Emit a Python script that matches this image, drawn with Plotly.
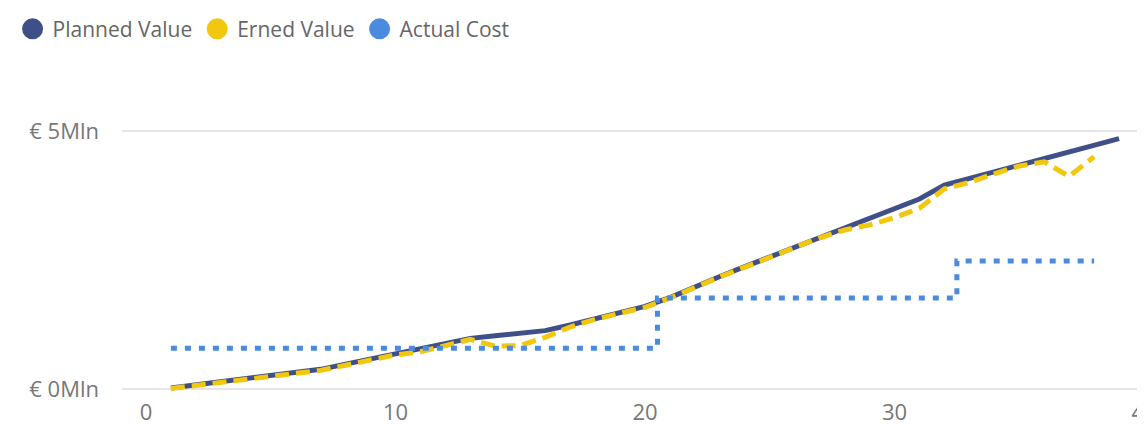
import plotly.graph_objects as go

weeks = list(range(1, 40))
planned_value = [0.02, 0.08, 0.14, 0.19, 0.24, 0.30, 0.38, 0.48, 0.58, 0.68,
                 0.80, 0.90, 0.98, 1.03, 1.08, 1.13, 1.24, 1.36, 1.48, 1.60,
                 1.77, 1.98, 2.18, 2.37, 2.56, 2.75, 2.94, 3.13, 3.32, 3.50,
                 3.68, 3.95, 4.08, 4.22, 4.35, 4.47, 4.59, 4.72, 4.85]
earned_weeks = list(range(1, 39))
earned_value = [0.01, 0.07, 0.13, 0.18, 0.23, 0.29, 0.36, 0.46, 0.56, 0.66,
                0.72, 0.84, 0.96, 0.83, 0.84, 1.00, 1.20, 1.35, 1.47, 1.58,
                1.76, 1.97, 2.17, 2.36, 2.55, 2.74, 2.93, 3.08, 3.18, 3.32,
                3.50, 3.88, 4.00, 4.17, 4.32, 4.40, 4.12, 4.50]
cost_weeks = list(range(1, 39))
actual_cost = [0.79] * 20 + [1.76] * 12 + [2.48] * 6

series_names = ["Planned Value", "Erned Value", "Actual Cost"]
colors = ["#3F5089", "#F2C80F", "#4A8BDF"]
x_ticks = [0, 10, 20, 30, 40]
y_ticks = [0, 5]
y_tick_labels = ["€ 0Mln", "€ 5Mln"]

fig = go.Figure()
fig.add_trace(go.Scatter(x=weeks, y=planned_value, mode="lines", name=series_names[0],
                         line=dict(color=colors[0], width=5), showlegend=False, cliponaxis=False))
fig.add_trace(go.Scatter(x=earned_weeks, y=earned_value, mode="lines", name=series_names[1],
                         line=dict(color=colors[1], width=5, dash="14px,7px"), showlegend=False,
                         cliponaxis=False))
fig.add_trace(go.Scatter(x=cost_weeks, y=actual_cost, mode="lines", name=series_names[2],
                         line=dict(color=colors[2], width=5, dash="6px,8px", shape="hvh"),
                         showlegend=False))
for name, c in zip(series_names, colors):
    fig.add_trace(go.Scatter(x=[None], y=[None], mode="markers", name=name,
                             marker=dict(color=c, size=16, symbol="circle",
                                         line=dict(color=c, width=5))))

fig.update_layout(
    width=1145, height=424,
    margin=dict(l=114, r=8, t=82, b=41),
    paper_bgcolor="white", plot_bgcolor="white",
    font=dict(family="Open Sans", color="#777777", size=21),
    legend=dict(orientation="h", x=0.004, xref="container", xanchor="left",
                y=0.95, yref="container", yanchor="middle",
                font=dict(size=21, color="#666666"), tracegroupgap=0),
    showlegend=True,
)
fig.update_xaxes(range=[-0.96, 40.04], tickvals=x_ticks, showgrid=False, zeroline=False,
                 showline=False, automargin=False, ticklabelstandoff=6,
                 ticklabeloverflow="allow",
                 tickfont=dict(size=22, color="#777777"))
fig.update_yaxes(range=[-0.04, 5.793], tickvals=y_ticks, ticktext=y_tick_labels, showgrid=True,
                 gridcolor="#E6E6E6", gridwidth=2, zeroline=False, showline=False,
                 automargin=False, ticklabelstandoff=22, tickfont=dict(size=22, color="#777777"))

fig.write_html("out.html")
